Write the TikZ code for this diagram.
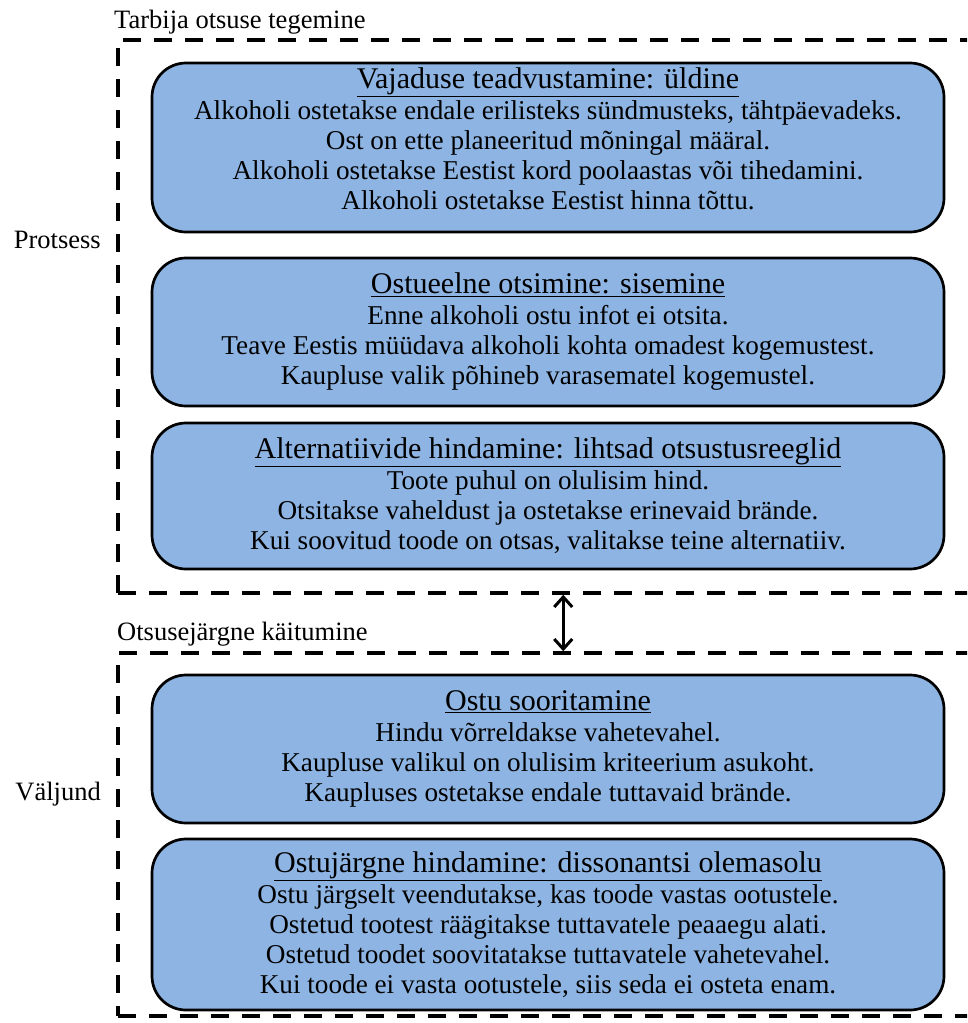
\documentclass[tikz,border=0pt]{standalone}
\usepackage{fontspec}
\setmainfont{Liberation Serif}
\usetikzlibrary{arrows.meta}
\definecolor{boxblue}{RGB}{141,180,226}
\newcommand{\bodyfont}{\fontsize{27.2}{30}\selectfont}
\newcommand{\headfont}{\fontsize{30}{32}\selectfont}
\newcommand{\head}[1]{{\headfont\underline{#1}}\\[1pt]}
\begin{document}
\begin{tikzpicture}[x=1pt,y=-1pt,
  stage/.style={draw=black, line width=2.7pt, fill=boxblue, rounded corners=34pt,
    minimum width=792pt, align=center, inner sep=0pt, font=\bodyfont},
  frame/.style={draw=black, line width=3.5pt, dash pattern=on 18pt off 13pt,
    minimum width=882pt, inner sep=0pt},
  lbl/.style={font=\fontsize{26.5}{28}\selectfont, inner sep=0pt},
  link/.style={line width=3pt, {Straight Barb[length=10pt,width=18pt,line width=3pt]}-{Straight Barb[length=10pt,width=18pt,line width=3pt]}}
]
\clip (0,0) rectangle (967,1023);

% outer dashed frames (right edge runs past the page)
\node[frame, minimum height=553pt] (f1) at (559,316.5) {};
\node[frame, minimum height=363pt] (f2) at (559,834.5) {};

% frame captions and side labels
\node[lbl, anchor=base west] (t1) at (114,28) {Tarbija otsuse tegemine};
\node[lbl, anchor=base east] (s1) at (101,248) {Protsess};
\node[lbl, anchor=base west] (t2) at (117,640) {Otsusejärgne käitumine};
\node[lbl, anchor=base east] (s2) at (101,800) {Väljund};

% stages of the decision process
\node[stage, minimum height=169pt, text depth=17pt] (b1) at (548,147.5) {%
  \head{Vajaduse teadvustamine: üldine}
  Alkoholi ostetakse endale erilisteks sündmusteks, tähtpäevadeks.\\
  Ost on ette planeeritud mõningal määral.\\
  Alkoholi ostetakse Eestist kord poolaastas või tihedamini.\\
  Alkoholi ostetakse Eestist hinna tõttu.};

\node[stage, minimum height=148pt] (b2) at (548,332) {%
  \head{Ostueelne otsimine: sisemine}
  Enne alkoholi ostu infot ei otsita.\\
  Teave Eestis müüdava alkoholi kohta omadest kogemustest.\\
  Kaupluse valik põhineb varasematel kogemustel.};

\node[stage, minimum height=146pt] (b3) at (548,496) {%
  \head{Alternatiivide hindamine: lihtsad otsustusreeglid}
  Toote puhul on olulisim hind.\\
  Otsitakse vaheldust ja ostetakse erinevaid brände.\\
  Kui soovitud toode on otsas, valitakse teine alternatiiv.};

\node[stage, minimum height=148pt] (b4) at (548,749) {%
  \head{Ostu sooritamine}
  Hindu võrreldakse vahetevahel.\\
  Kaupluse valikul on olulisim kriteerium asukoht.\\
  Kaupluses ostetakse endale tuttavaid brände.};

\node[stage, minimum height=171pt] (b5) at (548,924.5) {%
  \head{Ostujärgne hindamine: dissonantsi olemasolu}
  Ostu järgselt veendutakse, kas toode vastas ootustele.\\
  Ostetud tootest räägitakse tuttavatele peaaegu alati.\\
  Ostetud toodet soovitatakse tuttavatele vahetevahel.\\
  Kui toode ei vasta ootustele, siis seda ei osteta enam.};

% link between the two frames
\draw[link] ([xshift=447pt]f1.south west) -- ([xshift=447pt]f2.north west);
\end{tikzpicture}
\end{document}
